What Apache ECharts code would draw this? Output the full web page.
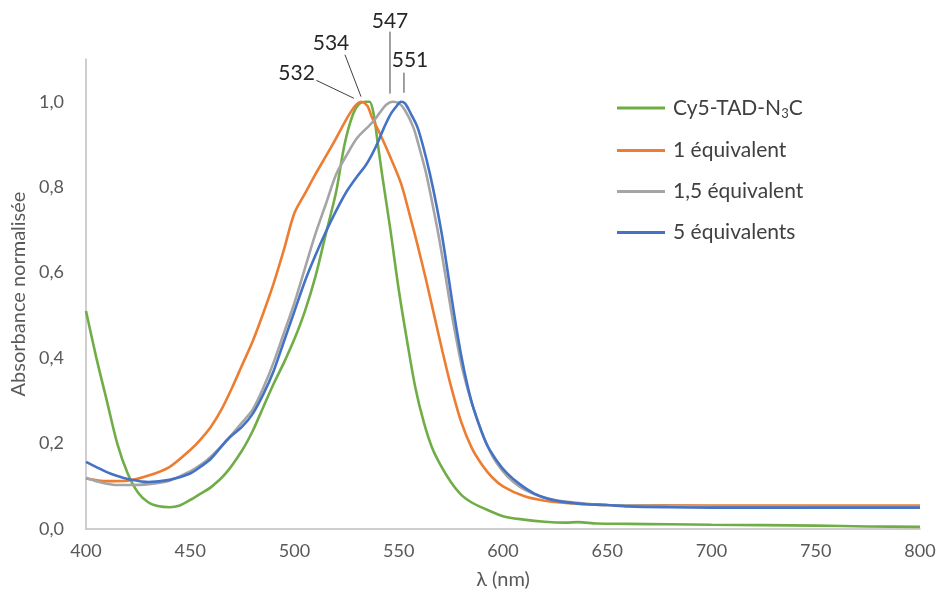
<!DOCTYPE html>
<html>
<head>
<meta charset="utf-8">
<script src="https://cdn.jsdelivr.net/npm/echarts@6/dist/echarts.min.js"></script>
<style>
html,body{margin:0;padding:0;background:#fff;}
#c{width:938px;height:592px;}
</style>
</head>
<body>
<div id="c"></div>
<script>
// ---------- DATA ----------
var seriesNames = ['Cy5-TAD-N3C', '1 équivalent', '1,5 équivalent', '5 équivalents'];

var wlGreen = [400,405,410,415,420,425,430,435,440,445,450,455,460,467,475,480,485,490,495,500,505,510,515,520,524,528,531,534,536,538,540,542,546,550,554,558,562,566,570,575,580,585,590,600,610,620,630,636,645,660,680,700,725,750,775,800];
var absGreen = [0.51,0.40,0.30,0.20,0.13,0.085,0.062,0.053,0.051,0.055,0.068,0.083,0.098,0.13,0.185,0.23,0.285,0.34,0.39,0.445,0.51,0.59,0.69,0.79,0.90,0.97,0.995,1.0,1.0,0.97,0.90,0.83,0.70,0.56,0.44,0.33,0.25,0.19,0.15,0.11,0.08,0.062,0.05,0.03,0.022,0.017,0.015,0.016,0.013,0.012,0.011,0.01,0.009,0.008,0.006,0.005];

var wlOrange = [400,410,420,430,440,450,455,460,465,470,475,480,485,490,495,500,505,510,515,520,525,529,532,535,537,541,546,551,555,559,563,567,571,575,580,585,590,595,600,610,620,630,640,650,700,750,800];
var absOrange = [0.118,0.112,0.113,0.125,0.145,0.185,0.21,0.24,0.28,0.33,0.385,0.44,0.505,0.575,0.655,0.74,0.785,0.83,0.872,0.915,0.96,0.99,1.0,0.99,0.965,0.925,0.87,0.81,0.74,0.665,0.585,0.50,0.415,0.335,0.25,0.19,0.15,0.12,0.10,0.077,0.066,0.061,0.058,0.056,0.055,0.055,0.055];

var wlGrey = [400,405,410,415,420,430,440,450,455,460,468,475,480,485,490,495,500,505,510,515,520,525,530,535,538,541,544,547,550,553,557,560,563,566,569,572,575,578,581,585,590,595,600,605,610,620,630,640,650,700,750,800];
var absGrey = [0.12,0.112,0.106,0.103,0.103,0.105,0.113,0.135,0.15,0.17,0.21,0.25,0.28,0.33,0.39,0.46,0.53,0.61,0.69,0.76,0.83,0.875,0.915,0.94,0.955,0.975,0.993,1.0,0.997,0.98,0.94,0.89,0.835,0.765,0.69,0.605,0.515,0.435,0.365,0.295,0.225,0.17,0.135,0.11,0.093,0.073,0.064,0.059,0.056,0.053,0.052,0.052];

var wlBlue = [400,405,410,415,420,430,440,450,455,460,468,475,480,485,490,495,500,505,510,515,520,525,530,534,537,540,543,546,549,551,553,556,559,562,565,568,571,574,577,580,583,586,592,597,602,608,615,622,628,635,640,650,660,680,700,750,800];
var absBlue = [0.157,0.145,0.133,0.124,0.117,0.11,0.115,0.13,0.146,0.165,0.21,0.24,0.27,0.315,0.37,0.44,0.51,0.58,0.64,0.695,0.745,0.79,0.825,0.85,0.875,0.905,0.94,0.97,0.99,1.0,0.996,0.97,0.94,0.89,0.83,0.76,0.68,0.585,0.49,0.405,0.335,0.28,0.20,0.16,0.13,0.105,0.083,0.07,0.064,0.06,0.058,0.056,0.053,0.051,0.05,0.05,0.05];

var peakLabels = ['532', '534', '547', '551'];

// ---------- STYLE / LAYOUT ----------
var colors = ['#70AD47', '#ED7D31', '#A5A5A5', '#4472C4'];
var FONT = 'Lato, "Liberation Sans", sans-serif';
// annotation geometry in data space: label centre, leader start, leader end
var annot = [
  {label:[501, 1.066], from:[510.5, 1.050], to:[528.5, 1.008]},
  {label:[517.5, 1.138], from:[524.2, 1.110], to:[531.9, 1.012]},
  {label:[545.8, 1.189], from:[545.8, 1.164], to:[545.8, 1.019]},
  {label:[555.4, 1.096], from:[552.5, 1.068], to:[552.5, 1.021]}
];

function pairs(xs, ys){ return xs.map(function(x,i){ return [x, ys[i]]; }); }
var allData = [pairs(wlGreen,absGreen), pairs(wlOrange,absOrange), pairs(wlGrey,absGrey), pairs(wlBlue,absBlue)];

var chart = echarts.init(document.getElementById('c'), null, {renderer:'canvas'});

var series = seriesNames.map(function(n,i){
  return {
    name: n, type: 'line', data: allData[i], showSymbol: false,
    smooth: 0.3,
    lineStyle: {color: colors[i], width: 2.6}, itemStyle: {color: colors[i]},
    z: 2 + i, animation: false
  };
});

chart.setOption({
  animation: false,
  backgroundColor: '#fff',
  grid: {left: 86, right: 18, top: 59, bottom: 63, containLabel: false, outerBoundsMode: 'none'},
  legend: {
    orient: 'vertical', left: 612, top: 92, itemWidth: 48, itemHeight: 3, itemGap: 20,
    icon: 'rect',
    data: seriesNames,
    formatter: function(n){
      if (n === 'Cy5-TAD-N3C') return '{a|Cy5-TAD-N}{s|3}{a|C}';
      return '{a|' + n + '}';
    },
    textStyle: {
      padding: [0,0,0,3],
      rich: {
        a: {fontFamily: FONT, fontSize: 21, color: '#404040', lineHeight: 24},
        s: {fontFamily: FONT, fontSize: 13, color: '#404040', verticalAlign: 'bottom', lineHeight: 24, padding: [10,0,0,0]}
      }
    }
  },
  xAxis: {
    type: 'value', min: 400, max: 800, interval: 50,
    name: 'λ (nm)', nameLocation: 'middle', nameGap: 41,
    nameTextStyle: {fontFamily: FONT, fontSize: 20, color: '#595959'},
    axisLine: {show: true, lineStyle: {color: '#BFBFBF', width: 1.5}},
    axisTick: {show: false},
    splitLine: {show: false},
    axisLabel: {fontFamily: FONT, fontSize: 18, color: '#595959', margin: 13}
  },
  yAxis: {
    type: 'value', min: 0, max: 1.1, interval: 0.2,
    name: 'Absorbance normalisée', nameLocation: 'middle', nameGap: 57,
    nameTextStyle: {fontFamily: FONT, fontSize: 20, color: '#595959'},
    axisLine: {show: true, lineStyle: {color: '#BFBFBF', width: 1.5}},
    axisTick: {show: false},
    splitLine: {show: false},
    axisLabel: {
      fontFamily: FONT, fontSize: 18, color: '#595959', margin: 22, showMaxLabel: false,
      formatter: function(v){
        var r = Math.round(v*10)/10;
        if (Math.abs(r*5 - Math.round(r*5)) > 1e-6) return '';
        return r.toFixed(1).replace('.', ',');
      }
    }
  },
  series: series
});

// annotations placed through the chart's coordinate system
var g = [];
annot.forEach(function(a, i){
  var p = chart.convertToPixel({gridIndex:0}, a.label);
  var f = chart.convertToPixel({gridIndex:0}, a.from);
  var t = chart.convertToPixel({gridIndex:0}, a.to);
  g.push({type:'line', shape:{x1:f[0], y1:f[1], x2:t[0], y2:t[1]}, style:{stroke:'#404040', lineWidth:1}, z: 10});
  g.push({type:'text', x:p[0], y:p[1], style:{text: peakLabels[i], fill:'#262626', font:'21px ' + FONT, align:'center', verticalAlign:'middle'}, z: 10});
});
chart.setOption({graphic: g});
</script>
</body>
</html>
